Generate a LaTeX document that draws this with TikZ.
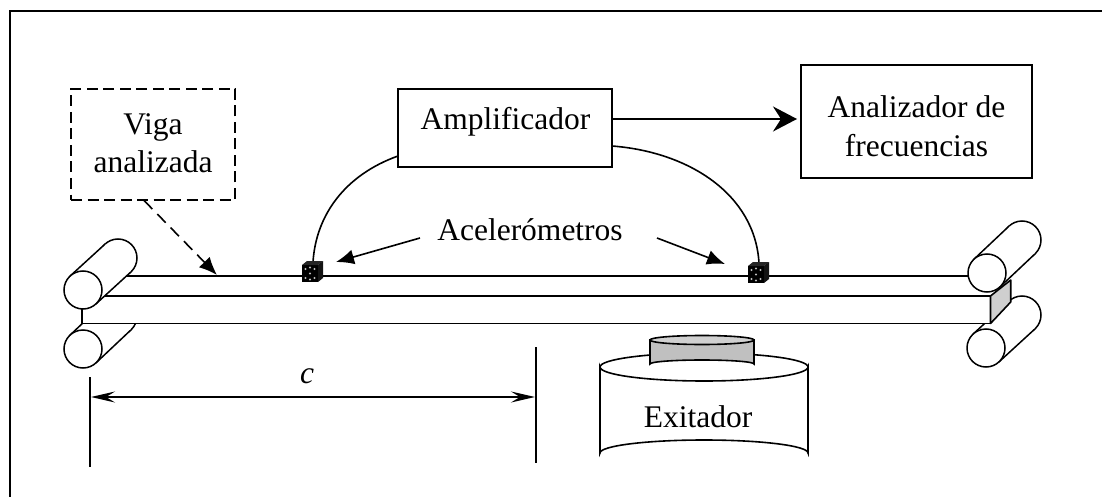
\documentclass[tikz,border=0pt]{standalone}
\usepackage{fontspec}
\setmainfont{Liberation Serif}
\usetikzlibrary{arrows.meta,calc}
\definecolor{capgray}{HTML}{D0D0D0}
\definecolor{bodygray}{HTML}{C0C0C0}
\definecolor{facegray}{HTML}{CFCFCF}
\tikzset{
  x=1pt,y=-1pt,
  lbl/.style={font=\fontsize{31.5}{38.5}\selectfont,align=center,inner sep=0pt},
  box/.style={draw,line width=1.8pt,fill=white,inner sep=0pt},
  ln/.style={line width=1.6pt},
  headtri/.style={-{Latex[length=18pt,width=15pt]}},
  dimhead/.style={{Stealth[length=24pt,width=11pt,inset=9pt]}-{Stealth[length=24pt,width=11pt,inset=9pt]}},
  rollerln/.style={line width=1.5pt},
}
\newcommand{\rollerpic}[4]{%
  \coordinate (rf) at (#1,#2); \coordinate (rb) at (#3,#4);
  \coordinate (ra) at ($(rf)!19pt!90:(rb)$);
  \coordinate (rc) at ($(rf)!19pt!-90:(rb)$);
  \coordinate (rd) at ($(rb)!19pt!90:(rf)$);
  \coordinate (re) at ($(rb)!19pt!-90:(rf)$);
  \fill[white] (ra) -- (rd) -- (re) -- (rc) -- cycle;
  \draw[rollerln,fill=white] (rb) circle[radius=19pt];
  \fill[white] (ra) -- (re) -- (rd) -- (rc) -- cycle;
  \draw[rollerln] (ra) -- (re) (rc) -- (rd);
  \draw[rollerln,fill=white] (rf) circle[radius=19pt];
}
\newcommand{\cubepic}[2]{%
  \begin{scope}[shift={(#1,#2)}]
    \fill[black] (0,0) rectangle (16,17);
    \fill[black!85] (0,0) -- (5,-4) -- (21,-4) -- (16,0) -- cycle;
    \fill[black!92] (16,0) -- (21,-4) -- (21,13) -- (16,17) -- cycle;
    \foreach \dx/\dy in {3.5/4,12.5/4,8/8.5,3.5/13,12.5/13,8/2.5,8/14.5}
      \fill[white!75!black] (\dx,\dy) circle[radius=1.1pt];
  \end{scope}
}
\begin{document}
\begin{tikzpicture}
\useasboundingbox (0,0) rectangle (1102,497);
% frame
\draw[line width=2.3pt] (10,497) -- (10,11) -- (1102,11);
% boxes and their labels
\node[box,dash pattern=on 11pt off 5.5pt,line width=1.6pt,minimum width=164pt,minimum height=111pt] (viga) at (153,144.5) {};
\node[lbl] (vigat) at (153,143) {Viga\\analizada};
\node[box,minimum width=214pt,minimum height=78pt] (amp) at (505,128) {};
\node[lbl,anchor=base] (ampt) at (505.5,130) {Amplificador};
\node[box,minimum width=231pt,minimum height=113pt] (ana) at (916.5,121.5) {};
\node[lbl] (anat) at (916.5,126) {Analizador de\\frecuencias};
% lower rollers, behind the beam
\rollerpic{83}{349}{118}{316}
\rollerpic{986}{348}{1022}{315}
% beam
\fill[white] (106,296) -- (127,276) -- (968,276) -- (990,296) -- (990,323.5) -- (82,323.5) -- (82,296) -- cycle;
\draw[ln] (118,276) -- (985,276);
\draw[line width=2pt] (90,296) -- (990.5,296);
\draw[ln] (82,300) -- (82,323.5) -- (990.5,323.5);
\draw[ln,fill=facegray,line join=round] (990.5,296) -- (1010.7,280) -- (1010.7,302) -- (990.5,323.5) -- cycle;
% upper rollers
\rollerpic{83}{290}{118}{258}
\rollerpic{987}{273}{1022}{240}
% amplifier connectors
\coordinate (ampout) at (612,119);
\coordinate (anain) at (797,119);
\draw[line width=2pt,-{Stealth[length=24pt,width=25pt,inset=8pt]}] (ampout) -- (anain);
\coordinate (ampl) at (398,156);
\coordinate (ampr) at (612,146);
\coordinate (acc1) at (313,262);
\coordinate (acc2) at (759,263);
\draw[ln] (ampl) .. controls (345,175) and (316,215) .. (acc1);
\draw[ln] (ampr) .. controls (690,152) and (755,195) .. (acc2);
% accelerometers
\cubepic{302}{265}
\cubepic{748}{266}
% pointer arrows
\node[lbl,anchor=base] (acet) at (530,240) {Acelerómetros};
\coordinate (p1a) at (420,238); \coordinate (p1b) at (336,262);
\coordinate (p2a) at (657,238); \coordinate (p2b) at (725,264);
\draw[ln,headtri] (p1a) -- (p1b);
\draw[ln,headtri] (p2a) -- (p2b);
\coordinate (vigaout) at (144,200.5); \coordinate (beamtop) at (217,275);
\draw[ln,dash pattern=on 12pt off 7pt,headtri] (vigaout) -- (beamtop);
% exciter
\coordinate (exl) at (600,367); \coordinate (exr) at (808,367);
\draw[ln,fill=white] (exl) -- (600,453) arc[start angle=180,end angle=360,x radius=104,y radius=13] -- (exr) arc[start angle=0,end angle=180,x radius=104,y radius=14] -- cycle;
\draw[ln] (exl) arc[start angle=180,end angle=360,x radius=104,y radius=14];
\draw[ln,fill=bodygray] (650,340) -- (650,364) arc[start angle=180,end angle=360,x radius=52,y radius=4] -- (754,340) -- cycle;
\draw[ln,fill=capgray] (702,340) ellipse[x radius=52,y radius=4.5];
\node[lbl,anchor=base] (ext) at (698,427) {Exitador};
% dimension
\coordinate (d1a) at (90,377); \coordinate (d1b) at (90,467);
\coordinate (d2a) at (536,347); \coordinate (d2b) at (536,463);
\draw[line width=1.8pt] (d1a) -- (d1b);
\draw[line width=1.8pt] (d2a) -- (d2b);
\coordinate (dl) at (91,397); \coordinate (dr) at (535,397);
\draw[ln,dimhead] (dl) -- (dr);
\node[lbl,anchor=base] (cl) at (307,383) {\itshape c};
\end{tikzpicture}
\end{document}
